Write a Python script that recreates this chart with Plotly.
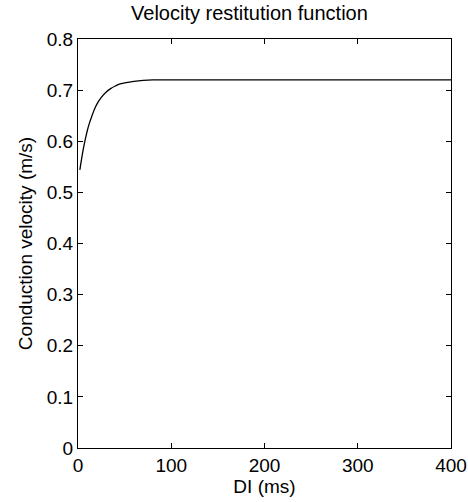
import plotly.graph_objects as go

di_ms = [2, 4, 6, 8, 10, 12, 15, 18, 21, 25, 30, 35, 40, 45, 50, 60, 70, 80,
         100, 150, 200, 250, 300, 350, 400]
cv_ms = [0.544, 0.567, 0.588, 0.605, 0.621, 0.634, 0.650, 0.664, 0.675, 0.686,
         0.696, 0.703, 0.708, 0.712, 0.714, 0.717, 0.719, 0.720,
         0.720, 0.720, 0.720, 0.720, 0.720, 0.720, 0.720]

x_ticks = [0, 100, 200, 300, 400]
y_ticks = [0, 0.1, 0.2, 0.3, 0.4, 0.5, 0.6, 0.7, 0.8]
y_labels = ["0", "0.1", "0.2", "0.3", "0.4", "0.5", "0.6", "0.7", "0.8"]

font_family = "Liberation Sans, Arial, Helvetica, sans-serif"
fs = 19

fig = go.Figure()
fig.add_trace(go.Scatter(x=di_ms, y=cv_ms, mode="lines",
                         line=dict(color="black", width=1.3, shape="spline"),
                         showlegend=False))

axis_common = dict(showline=True, linecolor="black", linewidth=1, mirror="ticks",
                   ticks="inside", ticklen=5, tickcolor="black", tickwidth=1,
                   showgrid=False, zeroline=False, automargin=False,
                   tickfont=dict(size=fs, color="black", family=font_family))

fig.update_layout(
    width=468, height=502,
    margin=dict(l=78, r=17, t=39, b=54),
    paper_bgcolor="white", plot_bgcolor="white",
    title=dict(text="Velocity restitution function", x=0.533, xanchor="center",
               y=1 - 13 / 502, yanchor="middle",
               font=dict(size=20, color="black", family=font_family)),
    xaxis=dict(range=[0, 400], tickvals=x_ticks, ticktext=[str(v) for v in x_ticks],
               title=dict(text="DI (ms)", standoff=0,
                          font=dict(size=fs, color="black", family=font_family)),
               **axis_common),
    yaxis=dict(range=[0, 0.8], tickvals=y_ticks, ticktext=y_labels,
               title=dict(text="Conduction velocity (m/s)", standoff=9,
                          font=dict(size=fs, color="black", family=font_family)),
               **axis_common),
)

fig.write_html("out.html")
